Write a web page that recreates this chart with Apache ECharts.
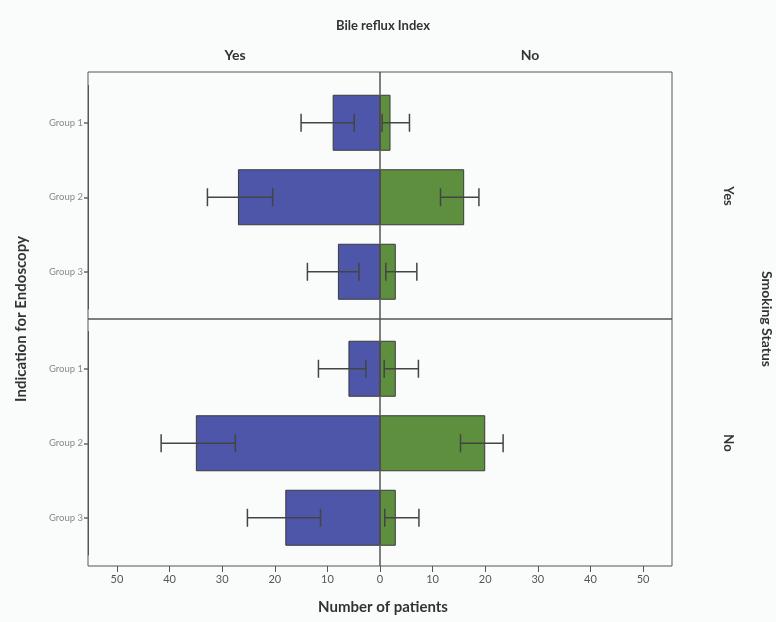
<!DOCTYPE html>
<html>
<head>
<meta charset="utf-8">
<script src="https://cdn.jsdelivr.net/npm/echarts@6/dist/echarts.min.js"></script>
<style>
html,body{margin:0;padding:0;background:#fafcfc;}
#c{width:776px;height:622px;}
</style>
</head>
<body>
<div id="c"></div>
<script>
// Data
var categories = ['Group 1', 'Group 2', 'Group 3'];
var xTicks = [-50, -40, -30, -20, -10, 0, 10, 20, 30, 40, 50];
// Smoking status = Yes (top panel)
var smokeYes_refluxYes = [9, 27, 8];
var smokeYes_refluxYes_lo = [4.9, 20.4, 4.0];
var smokeYes_refluxYes_hi = [15.0, 32.8, 13.8];
var smokeYes_refluxNo = [2, 16, 3];
var smokeYes_refluxNo_lo = [0.4, 11.5, 1.1];
var smokeYes_refluxNo_hi = [5.6, 18.8, 7.0];
// Smoking status = No (bottom panel)
var smokeNo_refluxYes = [6, 35, 18];
var smokeNo_refluxYes_lo = [2.7, 27.5, 11.3];
var smokeNo_refluxYes_hi = [11.7, 41.6, 25.2];
var smokeNo_refluxNo = [3, 20, 3];
var smokeNo_refluxNo_lo = [0.8, 15.3, 0.9];
var smokeNo_refluxNo_hi = [7.3, 23.4, 7.4];

var BLUE = '#4d56a8', GREEN = '#5d8f3f', LINE = '#555', FONT = 'Lato, "Open Sans", sans-serif';
var XMIN = -55.5, XMAX = 55.5;

function neg(a){ return a.map(function(v){ return -v; }); }
function errData(lo, hi, sign){
  return categories.map(function(c, i){
    return sign < 0 ? [-hi[i], -lo[i], i] : [lo[i], hi[i], i];
  });
}
function errRender(params, api){
  var a = api.coord([api.value(0), api.value(2)]);
  var b = api.coord([api.value(1), api.value(2)]);
  var h = 9;
  var st = {stroke: '#444', lineWidth: 1.5};
  return {type: 'group', children: [
    {type: 'line', shape: {x1: a[0], y1: a[1], x2: b[0], y2: b[1]}, style: st},
    {type: 'line', shape: {x1: a[0], y1: a[1]-h, x2: a[0], y2: a[1]+h}, style: st},
    {type: 'line', shape: {x1: b[0], y1: b[1]-h, x2: b[0], y2: b[1]+h}, style: st}
  ]};
}

var grids = [
  // panel frames
  {left: 88, right: 104, top: 72, height: 247, show: true, borderColor: LINE, borderWidth: 1, backgroundColor: 'transparent'},
  {left: 88, right: 104, top: 319, height: 247, show: true, borderColor: LINE, borderWidth: 1, backgroundColor: 'transparent'},
  // data areas
  {left: 88, right: 104, top: 85.5, height: 223.5},
  {left: 88, right: 104, top: 331.5, height: 223.5}
];
function xAx(idx, showLabels){
  return {
    type: 'value', gridIndex: idx, min: XMIN, max: XMAX,
    splitLine: {show: false},
    axisLine: {show: false},
    axisTick: {show: showLabels, length: 6, lineStyle: {color: LINE}, customValues: xTicks},
    axisLabel: {show: showLabels, customValues: xTicks, color: '#555', fontSize: 11, fontFamily: FONT, margin: 8,
      formatter: function(v){ return Math.abs(v); }}
  };
}
function frameY(idx){
  return {type: 'value', gridIndex: idx, min: 0, max: 1, axisLine: {show: false}, axisTick: {show: false},
    axisLabel: {show: false}, splitLine: {show: false}};
}
function yAx(idx){
  return {
    type: 'category', gridIndex: idx, data: categories, inverse: true,
    axisLine: {show: true, onZero: false, lineStyle: {color: LINE, width: 1}},
    axisTick: {show: true, alignWithLabel: true, length: 4, lineStyle: {color: '#666', width: 1.5}},
    axisLabel: {color: '#888', fontSize: 9.5, fontFamily: FONT, margin: 5}
  };
}
function bars(idx, vals, color, stack){
  return {type: 'bar', xAxisIndex: idx, yAxisIndex: idx, data: vals, stack: stack, barWidth: 56,
    itemStyle: {color: color, borderColor: '#3a3a3a', borderWidth: 1}, z: 2};
}
function errs(idx, data){
  return {type: 'custom', xAxisIndex: idx, yAxisIndex: idx, data: data, renderItem: errRender, z: 5};
}
function center(idx){
  return {type: 'line', xAxisIndex: idx, yAxisIndex: idx, data: [], z: 6,
    markLine: {silent: true, symbol: 'none', label: {show: false}, animation: false,
      lineStyle: {color: LINE, width: 1.5, type: 'solid'}, data: [{xAxis: 0}]}};
}

var chart = echarts.init(document.getElementById('c'));
chart.setOption({
  animation: false,
  backgroundColor: '#fafcfc',
  grid: grids,
  xAxis: [xAx(0, false), xAx(1, true), xAx(2, false), xAx(3, false)],
  yAxis: [frameY(0), frameY(1), yAx(2), yAx(3)],
  series: [
    bars(2, neg(smokeYes_refluxYes), BLUE, 's0'),
    bars(2, smokeYes_refluxNo, GREEN, 's0'),
    bars(3, neg(smokeNo_refluxYes), BLUE, 's1'),
    bars(3, smokeNo_refluxNo, GREEN, 's1'),
    errs(2, errData(smokeYes_refluxYes_lo, smokeYes_refluxYes_hi, -1)),
    errs(2, errData(smokeYes_refluxNo_lo, smokeYes_refluxNo_hi, 1)),
    errs(3, errData(smokeNo_refluxYes_lo, smokeNo_refluxYes_hi, -1)),
    errs(3, errData(smokeNo_refluxNo_lo, smokeNo_refluxNo_hi, 1)),
    center(0), center(1)
  ],
  graphic: [
    {type: 'text', x: 383, y: 26, style: {text: 'Bile reflux Index', font: 'bold 13px ' + FONT, fill: '#333', align: 'center', verticalAlign: 'middle'}},
    {type: 'text', x: 235, y: 55, style: {text: 'Yes', font: 'bold 14px ' + FONT, fill: '#333', align: 'center', verticalAlign: 'middle'}},
    {type: 'text', x: 530, y: 55, style: {text: 'No', font: 'bold 14px ' + FONT, fill: '#333', align: 'center', verticalAlign: 'middle'}},
    {type: 'text', x: 728, y: 196, rotation: -Math.PI/2, style: {text: 'Yes', font: 'bold 13px ' + FONT, fill: '#333', align: 'center', verticalAlign: 'middle'}},
    {type: 'text', x: 728, y: 443, rotation: -Math.PI/2, style: {text: 'No', font: 'bold 13px ' + FONT, fill: '#333', align: 'center', verticalAlign: 'middle'}},
    {type: 'text', x: 767, y: 319, rotation: -Math.PI/2, style: {text: 'Smoking Status', font: 'bold 14px ' + FONT, fill: '#333', align: 'center', verticalAlign: 'middle'}},
    {type: 'text', x: 21, y: 319, rotation: Math.PI/2, style: {text: 'Indication for Endoscopy', font: 'bold 15px ' + FONT, fill: '#333', align: 'center', verticalAlign: 'middle'}},
    {type: 'text', x: 383, y: 607, style: {text: 'Number of patients', font: 'bold 15px ' + FONT, fill: '#333', align: 'center', verticalAlign: 'middle'}}
  ]
});
</script>
</body>
</html>
